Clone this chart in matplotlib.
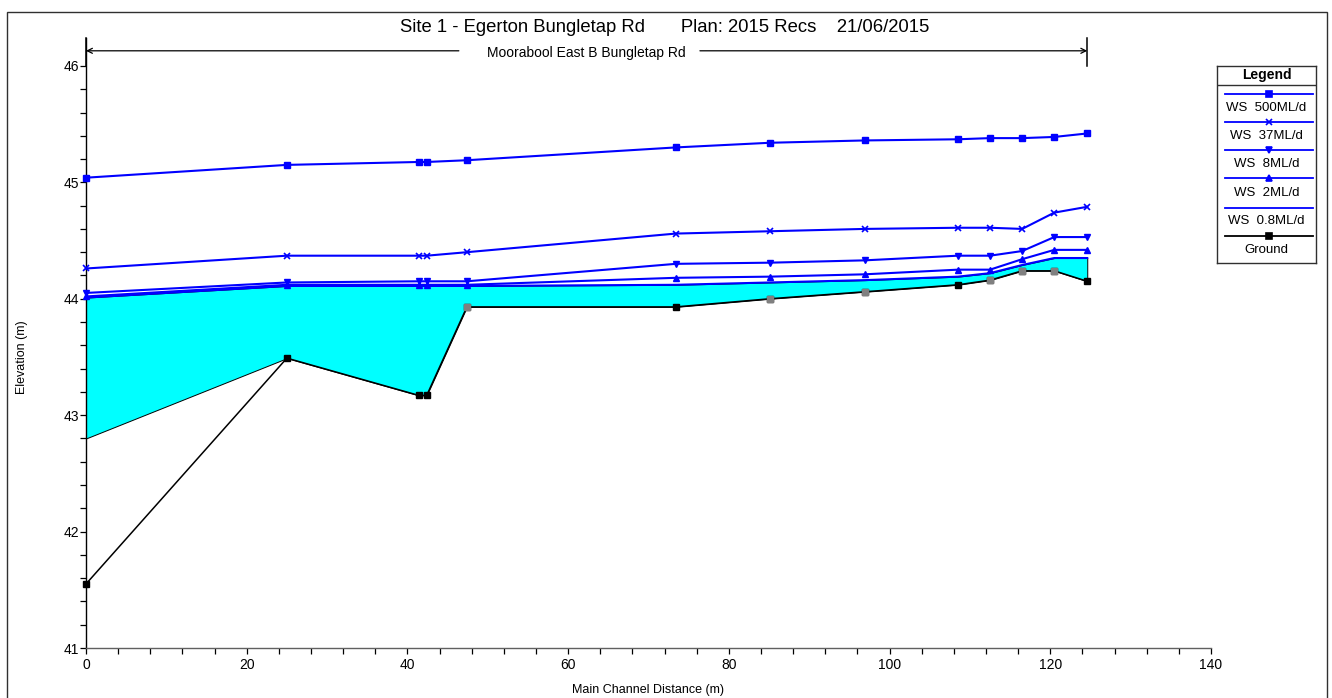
import matplotlib
matplotlib.use("Agg")
import matplotlib.pyplot as plt
from matplotlib.patches import Rectangle
from matplotlib.lines import Line2D
from matplotlib.ticker import MultipleLocator

plt.rcParams['font.family'] = ['Liberation Sans', 'DejaVu Sans']

# Main channel stations (m)
station = [0, 25, 41.4, 42.4, 47.4, 73.4, 85.1, 96.9, 108.5, 112.5, 116.5, 120.5, 124.6]

# Water surface profiles (m)
ws_500 = [45.04, 45.15, 45.175, 45.175, 45.19, 45.30, 45.34, 45.36, 45.37, 45.38, 45.38, 45.39, 45.42]
ws_37 = [44.26, 44.37, 44.37, 44.37, 44.40, 44.56, 44.58, 44.60, 44.61, 44.61, 44.60, 44.74, 44.79]
ws_8 = [44.05, 44.14, 44.15, 44.15, 44.15, 44.30, 44.31, 44.33, 44.37, 44.37, 44.41, 44.53, 44.53]
ws_2 = [44.02, 44.12, 44.12, 44.12, 44.12, 44.18, 44.19, 44.21, 44.25, 44.25, 44.34, 44.42, 44.42]
ws_08 = [44.01, 44.11, 44.11, 44.11, 44.11, 44.12, 44.14, 44.16, 44.19, 44.22, 44.29, 44.35, 44.35]

# Ground profile and channel floor under the lowest flow
ground = [41.55, 43.49, 43.17, 43.17, 43.93, 43.93, 44.00, 44.06, 44.12, 44.16, 44.24, 44.24, 44.15]
channel_floor = [42.80, 43.49, 43.17, 43.17, 43.93, 43.93, 44.00, 44.06, 44.12, 44.16, 44.24, 44.24, 44.15]
interpolated = [False, False, False, False, True, False, True, True, False, True, True, True, False]

profile_labels = ["WS  500ML/d", "WS  37ML/d", "WS  8ML/d", "WS  2ML/d", "WS  0.8ML/d", "Ground"]
x_ticks = [0, 20, 40, 60, 80, 100, 120, 140]
y_ticks = [41, 42, 43, 44, 45, 46]

W, H = 1332, 698
fig = plt.figure(figsize=(W / 100, H / 100), dpi=100)
fig.patch.set_facecolor('white')


def fx(px):
    return px / W


def fy(py):
    return 1 - py / H


ax = fig.add_axes([fx(86), fy(648), fx(1211) - fx(86), fy(38) - fy(648)])
ax.set_xlim(0, 140)
ax.set_ylim(41, 46.24)

BLUE = '#0000FF'
CYAN = '#00FFFF'

ax.fill_between(station, channel_floor, ws_08, facecolor=CYAN, edgecolor='black',
                linewidth=0.7, zorder=1)
ax.plot(station, ground, color='black', lw=1.1, marker='s', ms=5,
        mfc='black', mec='black', zorder=3, clip_on=False)
gx = [s for s, f in zip(station, interpolated) if f]
gy = [g for g, f in zip(ground, interpolated) if f]
ax.plot(gx, gy, ls='none', marker='s', ms=5, mfc='#808080', mec='#808080', zorder=4)

ax.plot(station, ws_08, color=BLUE, lw=1.5, zorder=5, clip_on=False)
ax.plot(station, ws_2, color=BLUE, lw=1.5, marker='^', ms=5, zorder=5, clip_on=False)
ax.plot(station, ws_8, color=BLUE, lw=1.5, marker='v', ms=5, zorder=5, clip_on=False)
ax.plot(station, ws_37, color=BLUE, lw=1.5, marker='x', ms=4.5, mew=1.2, zorder=5, clip_on=False)
ax.plot(station, ws_500, color=BLUE, lw=1.5, marker='s', ms=5, zorder=5, clip_on=False)

# Axes styling
for side in ('top', 'right'):
    ax.spines[side].set_visible(False)
ax.spines['left'].set_color('black')
ax.spines['bottom'].set_color('#606060')
ax.spines['left'].set_linewidth(1.0)
ax.spines['bottom'].set_linewidth(1.0)
ax.set_xticks(x_ticks)
ax.set_yticks(y_ticks)
ax.xaxis.set_minor_locator(MultipleLocator(4))
ax.set_yticks([41 + 0.2 * i for i in range(26)], minor=True)
ax.tick_params(axis='both', which='both', direction='out', length=4, width=0.9,
               colors='black', labelsize=10)
ax.tick_params(axis='x', pad=3)
ax.tick_params(axis='y', pad=1)

fig.text(fx(648), fy(690), "Main Channel Distance (m)", ha='center', va='center', fontsize=9)
fig.text(fx(22), fy(357), "Elevation (m)", ha='center', va='center', fontsize=9, rotation=90)

# Title
fig.text(fx(665), fy(27.5), "Site 1 - Egerton Bungletap Rd       Plan: 2015 Recs    21/06/2015",
         ha='center', va='center', fontsize=13.3)

# Bridge reach marker
x_end = station[-1]
y_arrow = 46.13
ax.plot([0, 0], [46.0, 46.24], color='black', lw=1.1, clip_on=False)
ax.plot([x_end, x_end], [46.0, 46.24], color='black', lw=1.1, clip_on=False)
ax.annotate("", xy=(0, y_arrow), xytext=(46.4, y_arrow),
            arrowprops=dict(arrowstyle='->', color='black', lw=0.9, shrinkA=0, shrinkB=0,
                            mutation_scale=9), annotation_clip=False)
ax.annotate("", xy=(x_end, y_arrow), xytext=(76.4, y_arrow),
            arrowprops=dict(arrowstyle='->', color='black', lw=0.9, shrinkA=0, shrinkB=0,
                            mutation_scale=9), annotation_clip=False)
ax.text(x_end / 2, 46.115, "Moorabool East B Bungletap Rd", ha='center', va='center',
        fontsize=10)

# Legend panel
lg = fig.add_axes([fx(1217), fy(263), fx(1316) - fx(1217), fy(66) - fy(263)])
lg.set_xlim(1217, 1316)
lg.set_ylim(263, 66)
lg.set_xticks([])
lg.set_yticks([])
for sp in lg.spines.values():
    sp.set_linewidth(1.0)
    sp.set_color('#303030')
lg.text(1266.5, 75.5, "Legend", ha='center', va='center', fontsize=10, fontweight='bold')
lg.plot([1217, 1316], [85, 85], color='#303030', lw=1.0)
line_y = [93.7, 122.3, 150, 178.3, 207.7, 235.7]
text_y = [108, 136, 164.3, 193.3, 221, 250]
styles = [('s', BLUE), ('x', BLUE), ('v', BLUE), ('^', BLUE), (None, BLUE), ('s', 'black')]
for (mk, col), ly, ty, lab in zip(styles, line_y, text_y, profile_labels):
    lg.add_line(Line2D([1225, 1313], [ly, ly], color=col, lw=1.3))
    if mk is not None:
        lg.plot([1269], [ly], marker=mk, color=col, ms=5 if mk != 'x' else 4.5, mew=1.2)
    lg.text(1266.5, ty, lab, ha='center', va='center', fontsize=9.5)

# Outer frame
fig.add_artist(Rectangle((fx(6.7), -0.05), fx(1327) - fx(6.7), fy(11.7) + 0.05,
                         transform=fig.transFigure, fill=False, edgecolor='#303030', lw=1.0))

fig.savefig("out.png", dpi=100)
